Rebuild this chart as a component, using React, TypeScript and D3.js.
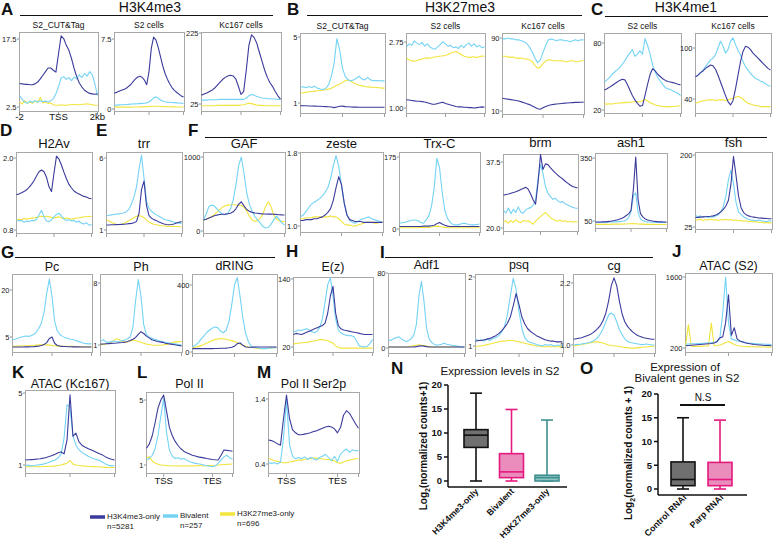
import React from "react";
import * as d3 from "d3";

const FONT = "'Liberation Sans', Arial, Helvetica, sans-serif";
const COL_K4 = "#3b3b9c";
const COL_BIV = "#74d3f5";
const COL_K27 = "#f2e43c";

// ---------------- profile data (31 bins, -2kb .. TSS .. +2kb) ----------------
const A1_K4 = [7.7,7.6,7.5,7.5,7.4,7.4,7.6,8.0,8.7,9.5,10.3,11.1,11.1,10.6,10.2,14.2,18.2,17.6,16.1,15.0,13.2,11.0,9.2,7.8,6.9,6.2,5.8,5.5,5.4,5.3,5.4];
const A1_BIV = [5.0,4.2,3.6,3.3,3.8,3.5,3.9,3.6,3.9,3.7,3.8,3.6,3.9,4.3,5.4,7.0,8.9,9.2,8.6,9.0,8.3,9.1,8.7,9.6,9.0,9.9,9.3,10.3,9.6,7.6,5.0];
const A1_K27 = [3.6,3.2,3.9,3.4,3.6,3.3,3.8,3.5,4.6,3.4,3.6,3.3,3.4,3.0,2.9,2.9,3.0,2.9,2.9,3.0,3.0,3.1,3.0,3.0,3.1,3.1,3.2,3.1,3.0,2.9,2.9];
const A1_Y = ["2.5", "17.5"];

const A2_K4 = [1.7,1.8,1.9,2.0,2.1,2.2,2.4,2.6,2.9,3.2,3.4,3.5,3.4,3.1,2.6,4.0,6.5,7.7,7.4,6.6,5.6,4.6,3.8,3.2,2.7,2.3,2.0,1.8,1.6,1.4,1.3];
const A2_BIV = [0.4,0.42,0.44,0.45,0.46,0.48,0.5,0.52,0.54,0.55,0.56,0.58,0.6,0.62,0.66,0.75,0.95,1.2,1.3,1.15,0.95,0.85,0.78,0.74,0.72,0.7,0.68,0.66,0.64,0.62,0.6];
const A2_K27 = [0.2,0.2,0.21,0.2,0.21,0.2,0.21,0.2,0.21,0.22,0.22,0.23,0.23,0.24,0.25,0.26,0.28,0.3,0.3,0.29,0.27,0.26,0.25,0.24,0.24,0.23,0.23,0.22,0.22,0.22,0.22];
const A2_Y = ["0", "7.5"];

const A3_K4 = [50,53,56,60,64,70,78,86,94,100,104,106,104,96,75,52,60,120,190,220,212,196,170,145,120,100,85,74,60,48,39];
const A3_BIV = [36,36,36,37,37,37,37,38,38,38,38,38,38,38,38,38,38,42,48,52,50,46,44,42,41,40,40,39,39,38,38];
const A3_K27 = [20,20,20,20,20,20,21,21,21,21,21,21,21,21,21,22,23,25,27,26,24,22,21,21,20,20,20,20,20,20,20];
const A3_Y = ["25", "225"];

const B1_K4 = [0.84,0.83,0.83,0.82,0.82,0.81,0.8,0.8,0.79,0.78,0.77,0.76,0.72,0.76,0.8,0.81,0.78,0.77,0.76,0.75,0.75,0.74,0.74,0.74,0.74,0.74,0.74,0.74,0.74,0.74,0.74];
const B1_BIV = [1.95,1.98,1.92,2.0,1.94,2.02,1.9,1.85,1.82,1.88,2.1,2.6,3.4,4.9,4.2,3.1,2.6,2.4,2.35,2.4,2.5,2.62,2.45,2.4,2.55,2.4,2.35,2.36,2.35,2.34,2.34];
const B1_K27 = [1.58,1.62,1.66,1.68,1.70,1.72,1.74,1.76,1.78,1.8,1.84,1.9,1.98,2.08,2.15,2.25,2.35,2.4,2.32,2.22,2.14,2.08,2.04,2.0,1.98,1.96,1.95,1.94,1.92,1.9,1.9];
const B1_Y = ["1", "5"];

const B2_K4 = [1.22,1.21,1.20,1.19,1.18,1.18,1.17,1.16,1.14,1.12,1.10,1.10,1.12,1.14,1.15,1.12,1.10,1.08,1.06,1.04,1.03,1.03,1.02,1.02,1.01,1.01,1.0,1.01,1.02,1.03,1.02];
const B2_BIV = [2.62,2.70,2.66,2.78,2.72,2.68,2.74,2.64,2.70,2.62,2.58,2.56,2.62,2.68,2.76,2.70,2.64,2.66,2.60,2.62,2.58,2.66,2.60,2.68,2.72,2.64,2.70,2.62,2.66,2.60,2.62];
const B2_K27 = [2.32,2.28,2.25,2.24,2.26,2.28,2.30,2.32,2.33,2.32,2.34,2.36,2.36,2.38,2.38,2.40,2.42,2.46,2.48,2.50,2.46,2.42,2.38,2.36,2.34,2.35,2.36,2.34,2.36,2.38,2.37];
const B2_Y = ["1.00", "2.75"];

const B3_K4 = [24,23.5,23,22.5,22,21.5,21,20,19,18,17,15.5,14,12.5,12,13.5,15,16,16.8,17.3,17.7,18,18.3,18.6,18.8,19,19.2,19.4,19.5,19.6,19.7];
const B3_BIV = [89,89,90,89,89,88,88,87,86,84,80,75,68,63,66,74,82,88,89,88,87,88,88,87,87,86,87,88,87,88,88];
const B3_K27 = [70,70,69,69,69,68,68,68,67,67,66,64,60,57,58,62,65,66,66,65,65,65,65,64,64,65,65,64,64,65,65];
const B3_Y = ["10", "90"];

const C1_K4 = [38,39,40.5,42,43.5,45,46.5,47.5,47,43,38,33,29,26,23.5,24,33,43,52,57,55,52,50,48,46.5,45.5,45,44.5,44,43,42.5];
const C1_BIV = [45,47,49,52,54,56,58,61,64,68,71,74,68,70,73,70,84,78,70,60,54,49,46,43,40,39,38.5,37,36,35,33];
const C1_K27 = [25.5,25.3,25.6,25.4,25.8,26,26.2,26.4,26.6,26.8,27,27.2,27.4,27.6,27.4,28.2,29.5,28,26.5,25.5,24.5,24,23.5,23.2,23,22.8,23,23.2,23.4,23.6,23.6];
const C1_Y = ["20", "80"];

const C2_K4 = [66,68,71,73,76,78,80,79,75,68,60,52,44,37,33,38,52,68,84,96,102,101,98,94,91,88,85,82,79,76,74];
const C2_BIV = [66,68,71,74,78,82,86,88,92,100,108,102,94,98,108,112,104,97,92,84,78,74,70,67,64,63,61,60,58,56,55];
const C2_K27 = [35,36,37,38,38,39,39,39,38,39,39,39,38,39,40,41,42,43,42,40,37,35,34,33,32,32,31,31,31,31,31];
const C2_Y = ["40", "100"];

const D_K4 = [1.39,1.40,1.42,1.44,1.47,1.51,1.56,1.62,1.70,1.77,1.80,1.77,1.68,1.52,1.44,1.75,2.03,1.98,1.88,1.76,1.65,1.56,1.50,1.45,1.42,1.40,1.38,1.36,1.35,1.33,1.32];
const D_BIV = [0.97,0.95,0.96,0.93,0.95,0.94,0.96,0.95,0.98,1.05,1.13,1.02,0.95,0.94,0.97,1.02,1.06,1.08,1.03,0.98,0.96,0.97,0.95,0.96,0.93,0.95,0.91,0.90,0.92,0.88,0.89];
const D_K27 = [0.97,0.98,0.97,0.99,0.98,0.99,1.0,1.0,1.01,1.02,1.03,1.02,1.03,1.02,1.01,1.0,1.01,1.02,1.0,0.99,1.0,0.99,0.98,0.99,1.0,1.0,1.01,1.02,1.02,1.03,1.02];
const D_Y = ["0.8", "2.0"];

const E_K4 = [1.35,1.35,1.36,1.36,1.37,1.38,1.39,1.4,1.42,1.44,1.46,1.5,1.6,2.15,3.8,4.4,2.7,2.0,1.82,1.72,1.65,1.55,1.48,1.42,1.38,1.36,1.38,1.42,1.48,1.54,1.58];
const E_BIV = [2.0,2.02,2.05,2.08,2.1,2.12,2.15,2.2,2.27,2.45,2.8,3.3,4.0,5.2,6.2,4.6,3.0,2.5,2.3,2.15,2.05,1.95,1.85,1.75,1.7,1.65,1.6,1.55,1.5,1.48,1.46];
const E_K27 = [1.7,1.62,1.52,1.45,1.4,1.36,1.38,1.45,1.55,1.65,1.75,1.85,1.95,2.0,1.95,1.85,1.7,1.55,1.45,1.4,1.36,1.33,1.3,1.28,1.27,1.26,1.25,1.24,1.24,1.23,1.23];
const E_Y = ["1", "6"];

const GAF_K4 = [150,160,175,190,205,215,222,226,228,232,240,260,300,360,395,340,290,265,252,245,240,235,232,230,228,228,226,224,220,218,217];
const GAF_BIV = [150,230,330,350,340,300,260,230,220,240,300,420,620,880,1000,780,520,360,270,200,150,110,60,40,50,90,150,200,160,110,80];
const GAF_K27 = [150,160,175,195,220,255,290,320,340,350,355,355,352,350,345,320,270,200,150,130,140,170,230,330,395,330,220,160,140,130,127];
const GAF_Y = ["0", "1000"];

const ZESTE_K4 = [1.06,1.06,1.07,1.07,1.07,1.08,1.08,1.09,1.10,1.12,1.15,1.19,1.28,1.42,1.54,1.45,1.25,1.12,1.07,1.06,1.05,1.05,1.05,1.04,1.04,1.04,1.04,1.04,1.04,1.04,1.04];
const ZESTE_BIV = [1.10,1.12,1.16,1.20,1.24,1.26,1.28,1.30,1.33,1.37,1.42,1.52,1.66,1.77,1.65,1.45,1.25,1.12,1.06,1.04,1.03,1.05,1.07,1.08,1.09,1.10,1.08,1.07,1.06,1.05,1.04];
const ZESTE_K27 = [1.08,1.08,1.09,1.09,1.09,1.1,1.1,1.1,1.1,1.1,1.1,1.11,1.1,1.1,1.08,1.05,1.02,1.01,1.01,1.0,1.0,1.01,1.02,1.03,1.04,1.04,1.04,1.03,1.03,1.04,1.04];
const ZESTE_Y = ["1.0", "1.8"];

const TRXC_K4 = [6,6,6,6,6,6,6,6,6,7,7,7,8,9,13,16,12,9,7,6,6,6,6,6,6,6,6,6,6,6,6];
const TRXC_BIV = [14,15,16,18,20,22,22,20,16,14,22,32,55,100,172,150,90,45,26,16,11,10,10,12,14,13,11,10,10,11,12];
const TRXC_K27 = [3,3,3,3,3,3,3,3,4,4,4,4,5,6,7,6,5,4,3,3,3,3,3,3,3,3,3,3,3,3,3];
const TRXC_Y = ["0", "175"];

const BRM_K4 = [28.7,28.9,29.0,29.2,29.4,29.6,29.9,30.2,30.5,30.8,30.3,29.0,27.5,26.3,32.0,39.5,35.5,37.0,36.8,36.0,35.3,34.6,34.0,33.5,33.0,32.4,31.9,31.4,31.0,30.8,30.6];
const BRM_BIV = [24.7,24.0,25.3,23.8,25.0,24.1,25.6,24.2,23.9,24.8,25.2,25.4,26.0,27.5,33.0,36.8,34.5,31.0,29.2,28.4,27.6,27.9,27.2,26.8,27.0,26.4,26.1,25.8,25.5,25.3,25.2];
const BRM_K27 = [21.6,21.9,21.3,22.0,21.5,22.2,21.7,21.4,22.0,21.8,21.9,21.5,21.0,21.8,22.4,23.0,23.6,24.1,23.5,22.8,22.3,22.0,21.8,22.1,21.7,21.9,21.6,21.8,21.5,21.7,21.6];
const BRM_Y = ["20.0", "37.5"];

const ASH1_K4 = [45,45,45,46,46,47,48,50,52,55,58,62,68,76,84,100,200,355,150,85,70,60,55,52,50,48,47,46,46,45,45];
const ASH1_BIV = [43,43,43,44,44,44,45,45,46,46,47,48,50,55,65,95,170,184,90,60,52,48,46,45,44,44,43,43,43,43,43];
const ASH1_K27 = [34,34,34,34,34,34,34,35,35,35,35,35,36,36,37,37,38,37,36,35,35,34,34,34,34,34,33,33,33,33,33];
const ASH1_Y = ["50", "350"];

const FSH_K4 = [48,48.5,49,49.5,50,50.5,51,52,54,57,62,68,76,90,130,196,150,100,72,60,55,52,50,49,48,47,46.5,46,45.5,45,45];
const FSH_BIV = [53,50,52,49,51,48,50,49,52,55,62,75,100,140,163,130,85,62,55,50,46,43,42,41,40,42,40,39,38,40,39];
const FSH_K27 = [43,42,44,41,43,42,44,42,43,41,43,42,44,42,43,41,42,40,41,39,40,38,39,37,38,36,37,35,36,35,35];
const FSH_Y = ["25", "200"];

const PC_K4 = [1.8,1.8,1.8,1.8,1.8,1.85,1.85,1.9,1.9,2.0,2.1,2.3,2.6,3.2,4.5,5.0,3.0,2.3,2.1,2.0,1.95,1.9,1.9,1.85,1.85,1.85,1.8,1.8,1.8,1.8,1.8];
const PC_BIV = [4.1,4.3,4.6,4.9,5.1,5.3,5.2,5.4,5.8,6.5,7.8,9.5,13.0,19.0,23.5,18.0,10.0,7.0,5.8,5.2,4.8,4.5,4.3,4.2,3.9,3.6,3.3,3.0,2.9,2.8,2.8];
const PC_K27 = [2.0,2.0,2.1,2.1,2.2,2.2,2.2,2.3,2.3,2.4,2.5,2.5,2.6,2.5,2.4,2.3,2.2,2.1,2.1,2.0,2.0,2.0,2.0,2.0,1.9,1.9,1.9,1.9,1.9,1.9,1.9];
const PC_Y = ["5", "20"];

const PH_K4 = [1.1,1.12,1.14,1.16,1.18,1.2,1.22,1.25,1.28,1.32,1.4,1.5,1.65,1.85,2.2,2.5,2.3,2.0,1.8,1.6,1.5,1.4,1.35,1.3,1.2,1.15,1.1,1.05,1.0,0.95,0.9];
const PH_BIV = [1.38,1.6,1.35,1.3,1.4,1.45,1.35,1.4,1.5,1.55,1.7,1.9,3.0,6.0,8.4,6.5,3.3,2.2,1.9,1.75,1.65,1.55,1.45,1.4,1.3,1.25,1.2,1.15,1.1,1.05,1.0];
const PH_K27 = [1.0,1.05,1.1,1.2,1.35,1.55,1.7,1.6,1.4,1.3,1.35,1.45,1.55,1.5,1.4,1.3,1.2,1.1,1.05,1.0,0.98,0.97,0.98,1.0,1.05,1.1,1.2,1.3,1.35,1.38,1.38];
const PH_Y = ["1", "8"];

const DRING_K4 = [20,20,20,20,20,20,20,20,21,21,22,22,23,25,28,35,50,54,40,30,28,28,29,30,30,30,30,30,30,30,30];
const DRING_BIV = [30,40,55,75,95,115,130,142,150,145,125,115,130,180,280,400,445,330,200,110,60,35,28,25,22,20,20,22,24,25,26];
const DRING_K27 = [26,28,32,38,45,52,60,68,74,78,80,79,76,72,68,62,55,48,40,34,30,27,25,22,20,20,21,22,24,25,26];
const DRING_Y = ["0", "400"];

const EZ_K4 = [42,44,43,42,44,46,48,50,52,54,56,58,62,80,110,127,80,58,52,50,49,48,47,46,45,44,43,42,42,42,42];
const EZ_BIV = [47,48,50,49,51,52,50,47,45,48,55,70,100,130,142,110,70,50,45,42,41,40,40,38,30,22,21,20,21,26,33];
const EZ_K27 = [26,26,27,27,28,28,29,30,31,32,33,33,32,31,29,27,22,19,18,18,18,18,18,18,18,18,18,18,18,18,18];
const EZ_Y = ["20", "140"];

const ADF1_K4 = [1,1,1,1,1,1,1,1,1,1,1.2,1.5,2,2.4,2,1.5,1.2,1,1,1,1,1,1,1,1,1,1,1,1,1,1];
const ADF1_BIV = [9,8,10,11,12,10,8,7,8,10,14,25,55,71,50,22,10,6,4,3,3.5,4,5,4,3.5,3,2.5,2,1.5,1,1];
const ADF1_K27 = [1,1,1,1,1,1,1,1.2,1.5,2,2.5,3,3.4,3,2.5,2,1.5,1.2,1,1,1,1,1,1,1,1,1,1,1,1,1];
const ADF1_Y = ["0", "80"];

const PSQ_K4 = [1.07,1.08,1.08,1.09,1.10,1.11,1.13,1.15,1.18,1.22,1.27,1.33,1.42,1.58,1.76,1.60,1.42,1.32,1.25,1.21,1.18,1.15,1.13,1.11,1.09,1.08,1.07,1.07,1.06,1.06,1.06];
const PSQ_BIV = [1.10,1.08,1.09,1.07,1.10,1.08,1.11,1.12,1.15,1.2,1.28,1.45,1.72,1.98,1.82,1.5,1.25,1.12,1.07,1.05,1.04,1.02,1.01,1.0,1.02,1.01,1.02,1.0,1.01,1.01,1.01];
const PSQ_K27 = [0.99,1.0,1.0,1.01,1.02,1.03,1.04,1.05,1.06,1.07,1.07,1.08,1.08,1.08,1.07,1.06,1.05,1.04,1.03,1.02,1.01,1.0,1.0,0.99,0.99,0.99,0.99,0.99,0.99,0.99,0.99];
const PSQ_Y = ["1", "2"];

const CG_K4 = [1.11,1.12,1.13,1.14,1.16,1.18,1.20,1.23,1.27,1.32,1.38,1.48,1.62,1.85,2.15,2.30,2.15,1.85,1.60,1.45,1.36,1.30,1.25,1.21,1.18,1.16,1.14,1.13,1.12,1.11,1.11];
const CG_BIV = [1.00,1.01,1.01,1.02,1.03,1.04,1.05,1.07,1.10,1.15,1.22,1.32,1.45,1.58,1.62,1.58,1.45,1.30,1.20,1.12,1.07,1.05,1.04,1.03,1.02,1.01,1.01,1.02,1.01,1.0,1.0];
const CG_K27 = [0.98,0.99,1.0,1.01,1.02,1.03,1.04,1.05,1.06,1.06,1.05,1.04,1.02,1.0,0.99,0.98,0.98,0.97,0.96,0.95,0.95,0.94,0.94,0.94,0.95,0.95,0.96,0.96,0.97,0.97,0.98];
const CG_Y = ["1.0", "2.2"];

const ATACS2_K4 = [245,250,255,260,265,270,275,280,285,290,300,330,400,420,700,1250,450,600,380,340,320,300,290,280,270,265,260,255,250,248,245];
const ATACS2_BIV = [275,280,285,285,290,290,295,300,300,305,310,320,400,900,1600,700,380,360,340,330,320,310,300,295,290,285,280,278,275,272,270];
const ATACS2_K27 = [230,660,235,232,230,235,233,238,240,690,245,250,260,280,310,330,300,270,250,240,235,230,228,226,225,222,220,220,220,218,218];
const ATACS2_Y = ["200", "1600"];

const ATACK_K4 = [1.28,1.29,1.30,1.31,1.33,1.35,1.38,1.42,1.47,1.53,1.60,1.68,1.72,1.62,2.4,4.9,2.6,2.77,2.3,2.1,2.0,1.92,1.85,1.78,1.7,1.62,1.55,1.45,1.38,1.32,1.28];
const ATACK_BIV = [1.0,0.98,0.95,0.97,1.0,1.02,1.05,1.1,1.15,1.22,1.28,1.4,1.6,2.5,4.35,4.2,2.6,2.1,1.85,1.7,1.6,1.5,1.42,1.35,1.3,1.25,1.15,1.05,0.98,0.95,0.96];
const ATACK_K27 = [0.9,0.9,0.9,0.9,0.9,0.9,0.92,0.92,0.93,0.94,0.95,0.97,1.0,1.05,1.1,1.25,1.05,1.0,0.97,0.95,0.94,0.93,0.92,0.91,0.9,0.9,0.88,0.87,0.86,0.86,0.86];
const ATACK_Y = ["1", "5"];

// metagene bins: upstream .. TSS (bin 6) .. gene body .. TES (bin 23) .. downstream
const POL2_K4 = [2.03,2.3,2.8,3.6,4.5,5.0,5.3,4.3,3.3,2.8,2.45,2.2,2.0,1.85,1.75,1.67,1.6,1.55,1.5,1.47,1.44,1.4,1.37,1.34,1.32,1.31,1.6,1.92,1.9,1.88,1.85];
const POL2_BIV = [1.3,1.4,1.6,2.0,2.8,4.0,5.1,3.0,1.9,1.55,1.4,1.45,1.35,1.4,1.3,1.2,1.15,1.1,1.08,1.05,1.0,0.95,0.92,0.9,0.95,1.1,1.3,1.5,1.6,1.45,1.35];
const POL2_K27 = [1.45,1.5,1.25,1.12,1.05,1.0,0.98,0.96,0.95,0.95,0.94,0.95,0.94,0.95,0.94,0.95,0.94,0.95,0.96,0.95,0.94,0.95,0.96,0.97,0.98,1.0,1.02,1.03,1.04,1.05,1.06];
const POL2_Y = ["1", "5"];

const SER2_K4 = [0.77,0.76,0.74,0.71,0.69,1.1,1.46,1.1,0.93,0.88,0.85,0.85,0.86,0.87,0.88,0.9,0.91,0.93,0.95,0.97,0.98,0.97,0.94,0.88,0.96,1.15,1.22,1.18,1.1,1.02,0.95];
const SER2_BIV = [0.42,0.41,0.42,0.40,0.43,0.8,1.38,0.7,0.52,0.48,0.5,0.48,0.51,0.47,0.5,0.48,0.46,0.5,0.52,0.55,0.5,0.45,0.52,0.44,0.55,0.6,0.63,0.58,0.62,0.6,0.61];
const SER2_K27 = [0.49,0.47,0.45,0.44,0.43,0.42,0.42,0.43,0.44,0.45,0.46,0.46,0.47,0.48,0.48,0.49,0.49,0.48,0.48,0.47,0.47,0.46,0.45,0.42,0.41,0.43,0.45,0.46,0.47,0.48,0.48];
const SER2_Y = ["0.4", "1.4"];

const TSS_X = ["-2", "TSS", "2kb"];
const GENE_X = ["TSS", "TES"];

const LEGEND_LABELS = ["H3K4me3-only", "Bivalent", "H3K27me3-only"];
const LEGEND_N = ["n=5281", "n=257", "n=696"];

// ---------------- box plot data ----------------
const N_CATS = ["H3K4me3-only", "Bivalent", "H3K27me3-only"];
const N_MIN = [0, 0, 0];
const N_Q1 = [7.0, 0.7, 0.0];
const N_MED = [9.55, 1.9, 0.7];
const N_Q3 = [10.7, 5.7, 1.2];
const N_MAX = [18.3, 14.9, 12.7];

const O_CATS = ["Control RNAi", "Parp RNAi"];
const O_MIN = [0, 0];
const O_Q1 = [0.7, 0.7];
const O_MED = [2.0, 2.0];
const O_Q3 = [5.7, 5.6];
const O_MAX = [15.0, 14.5];

const BOX_TICKS = [0, 5, 10, 15, 20];

// ---------------- layout ----------------
type Panel = {
  key: string; title: string; ts: number; ty: number;
  x0: number; y0: number; x1: number; y1: number;
  yt: string[]; tp: [number, number];
  k4: number[]; biv: number[]; k27: number[];
  xl?: string[]; xi?: number[];
};

const PANELS: Panel[] = [
  { key: "A1", title: "S2_CUT&Tag", ts: 8.5, ty: 28, x0: 19, y0: 32, x1: 98, y1: 111, yt: A1_Y, tp: [107, 39], k4: A1_K4, biv: A1_BIV, k27: A1_K27, xl: TSS_X, xi: [0, 15, 30] },
  { key: "A2", title: "S2 cells", ts: 8.5, ty: 28, x0: 114, y0: 32, x1: 184, y1: 111, yt: A2_Y, tp: [109, 39], k4: A2_K4, biv: A2_BIV, k27: A2_K27 },
  { key: "A3", title: "Kc167 cells", ts: 8.5, ty: 28, x0: 201, y0: 32, x1: 281, y1: 111, yt: A3_Y, tp: [104, 33], k4: A3_K4, biv: A3_BIV, k27: A3_K27 },
  { key: "B1", title: "S2_CUT&Tag", ts: 8.5, ty: 29, x0: 300, y0: 33, x1: 385, y1: 113, yt: B1_Y, tp: [103, 37], k4: B1_K4, biv: B1_BIV, k27: B1_K27 },
  { key: "B2", title: "S2 cells", ts: 8.5, ty: 29, x0: 406, y0: 33, x1: 485, y1: 113, yt: B2_Y, tp: [108, 42], k4: B2_K4, biv: B2_BIV, k27: B2_K27 },
  { key: "B3", title: "Kc167 cells", ts: 8.5, ty: 29, x0: 502, y0: 33, x1: 584, y1: 114, yt: B3_Y, tp: [111, 38], k4: B3_K4, biv: B3_BIV, k27: B3_K27 },
  { key: "C1", title: "S2 cells", ts: 8.5, ty: 29, x0: 604, y0: 33, x1: 681, y1: 113, yt: C1_Y, tp: [110, 43], k4: C1_K4, biv: C1_BIV, k27: C1_K27 },
  { key: "C2", title: "Kc167 cells", ts: 8.5, ty: 29, x0: 695, y0: 33, x1: 771, y1: 113, yt: C2_Y, tp: [99, 48], k4: C2_K4, biv: C2_BIV, k27: C2_K27 },

  { key: "D", title: "H2Av", ts: 13, ty: 148, x0: 16, y0: 152, x1: 92, y1: 233, yt: D_Y, tp: [230, 158], k4: D_K4, biv: D_BIV, k27: D_K27 },
  { key: "E", title: "trr", ts: 13, ty: 148, x0: 106, y0: 152, x1: 182, y1: 233, yt: E_Y, tp: [230, 158], k4: E_K4, biv: E_BIV, k27: E_K27 },
  { key: "GAF", title: "GAF", ts: 13, ty: 148, x0: 203, y0: 152, x1: 285, y1: 233, yt: GAF_Y, tp: [231, 157], k4: GAF_K4, biv: GAF_BIV, k27: GAF_K27 },
  { key: "ZESTE", title: "zeste", ts: 13, ty: 148, x0: 300, y0: 152, x1: 383, y1: 232, yt: ZESTE_Y, tp: [226, 153], k4: ZESTE_K4, biv: ZESTE_BIV, k27: ZESTE_K27 },
  { key: "TRXC", title: "Trx-C", ts: 13, ty: 148, x0: 399, y0: 152, x1: 480, y1: 232, yt: TRXC_Y, tp: [229, 157], k4: TRXC_K4, biv: TRXC_BIV, k27: TRXC_K27 },
  { key: "BRM", title: "brm", ts: 13, ty: 147, x0: 503, y0: 154, x1: 578, y1: 231, yt: BRM_Y, tp: [228, 162], k4: BRM_K4, biv: BRM_BIV, k27: BRM_K27 },
  { key: "ASH1", title: "ash1", ts: 13, ty: 147, x0: 595, y0: 153, x1: 667, y1: 228, yt: ASH1_Y, tp: [221, 158], k4: ASH1_K4, biv: ASH1_BIV, k27: ASH1_K27 },
  { key: "FSH", title: "fsh", ts: 13, ty: 147, x0: 695, y0: 152, x1: 772, y1: 229, yt: FSH_Y, tp: [227, 155], k4: FSH_K4, biv: FSH_BIV, k27: FSH_K27 },

  { key: "PC", title: "Pc", ts: 12.5, ty: 271, x0: 12, y0: 274, x1: 92, y1: 352, yt: PC_Y, tp: [337, 290], k4: PC_K4, biv: PC_BIV, k27: PC_K27 },
  { key: "PH", title: "Ph", ts: 12.5, ty: 271, x0: 100, y0: 274, x1: 182, y1: 352, yt: PH_Y, tp: [345, 283], k4: PH_K4, biv: PH_BIV, k27: PH_K27 },
  { key: "DRING", title: "dRING", ts: 12.5, ty: 270, x0: 192, y0: 274, x1: 277, y1: 353, yt: DRING_Y, tp: [352, 285], k4: DRING_K4, biv: DRING_BIV, k27: DRING_K27 },
  { key: "EZ", title: "E(z)", ts: 12.5, ty: 271, x0: 293, y0: 277, x1: 373, y1: 352, yt: EZ_Y, tp: [347, 279], k4: EZ_K4, biv: EZ_BIV, k27: EZ_K27 },
  { key: "ADF1", title: "Adf1", ts: 12.5, ty: 269, x0: 388, y0: 273, x1: 465, y1: 353, yt: ADF1_Y, tp: [348, 273], k4: ADF1_K4, biv: ADF1_BIV, k27: ADF1_K27 },
  { key: "PSQ", title: "psq", ts: 12.5, ty: 269, x0: 475, y0: 274, x1: 563, y1: 353, yt: PSQ_Y, tp: [346, 277], k4: PSQ_K4, biv: PSQ_BIV, k27: PSQ_K27 },
  { key: "CG", title: "cg", ts: 12.5, ty: 270, x0: 573, y0: 274, x1: 655, y1: 353, yt: CG_Y, tp: [345, 283], k4: CG_K4, biv: CG_BIV, k27: CG_K27 },
  { key: "ATACS2", title: "ATAC (S2)", ts: 12.5, ty: 270, x0: 685, y0: 273, x1: 772, y1: 352, yt: ATACS2_Y, tp: [348, 277], k4: ATACS2_K4, biv: ATACS2_BIV, k27: ATACS2_K27 },

  { key: "ATACK", title: "ATAC (Kc167)", ts: 12.5, ty: 388, x0: 25, y0: 390, x1: 115, y1: 473, yt: ATACK_Y, tp: [465, 393], k4: ATACK_K4, biv: ATACK_BIV, k27: ATACK_K27 },
  { key: "POL2", title: "Pol II", ts: 12.5, ty: 388, x0: 146, y0: 392, x1: 233, y1: 473, yt: POL2_Y, tp: [465, 400], k4: POL2_K4, biv: POL2_BIV, k27: POL2_K27, xl: GENE_X, xi: [6, 23] },
  { key: "SER2", title: "Pol II Ser2p", ts: 12.5, ty: 388, x0: 268, y0: 392, x1: 359, y1: 473, yt: SER2_Y, tp: [464, 399], k4: SER2_K4, biv: SER2_BIV, k27: SER2_K27, xl: GENE_X, xi: [6, 23] },
];

const LETTERS: [string, number, number][] = [
  ["A", 1, 15], ["B", 287, 15], ["C", 591, 15],
  ["D", 0, 136], ["E", 96, 136], ["F", 188, 136],
  ["G", 1, 258], ["H", 286, 257], ["I", 380, 258], ["J", 672, 257],
  ["K", 12, 378], ["L", 137, 378], ["M", 257, 378],
  ["N", 391, 374], ["O", 580, 374],
];

function Profile({ p }: { p: Panel }) {
  const n = p.k4.length;
  const x = d3.scaleLinear().domain([0, n - 1]).range([p.x0 + 0.5, p.x1 - 0.5]);
  const y = d3.scaleLinear().domain([+p.yt[0], +p.yt[1]]).range(p.tp);
  const line = d3.line<number>().x((_, i) => x(i)).y((d) => y(d));
  const xi = p.xi ?? [0, (n - 1) / 2, n - 1];
  const series: [number[], string][] = [[p.k27, COL_K27], [p.biv, COL_BIV], [p.k4, COL_K4]];
  return (
    <g>
      <defs>
        <clipPath id={"clip-" + p.key}>
          <rect x={p.x0} y={p.y0} width={p.x1 - p.x0} height={p.y1 - p.y0} />
        </clipPath>
      </defs>
      <text x={(p.x0 + p.x1) / 2} y={p.ty} fontSize={p.ts} textAnchor="middle" fill="#111">{p.title}</text>
      <rect x={p.x0 + 0.5} y={p.y0 + 0.5} width={p.x1 - p.x0} height={p.y1 - p.y0} fill="white" stroke="#a8a8a8" strokeWidth={1} />
      <g clipPath={`url(#clip-${p.key})`}>
        {series.map(([d, c], k) => (
          <path key={k} d={line(d) ?? ""} fill="none" stroke={c} strokeWidth={1.1} strokeLinejoin="round" />
        ))}
      </g>
      {p.yt.map((t) => (
        <g key={t}>
          <line x1={p.x0 - 2} x2={p.x0} y1={y(+t)} y2={y(+t)} stroke="#777" strokeWidth={0.8} />
          <text x={p.x0 - 2.5} y={y(+t)} dy="0.35em" fontSize={7.5} textAnchor="end" fill="#222">{t}</text>
        </g>
      ))}
      {(p.xi ? [0, ...xi, n - 1] : xi).map((i, k) => (
        <line key={k} x1={x(i)} x2={x(i)} y1={p.y1 + 1} y2={p.y1 + 4} stroke="#888" strokeWidth={0.8} />
      ))}
      {p.xl && p.xl.map((t, k) => (
        <text key={t} x={x(xi[k])} y={p.key === "A1" ? 120 : p.y1 + 11} fontSize={9.5} textAnchor="middle" fill="#111">{t}</text>
      ))}
    </g>
  );
}

type BoxSpec = {
  cats: string[]; min: number[]; q1: number[]; med: number[]; q3: number[]; max: number[];
  axisX: number; y0: number; yTop: number; axisBottom: number; axisRight: number;
  c0: number; c1: number; fills: string[]; strokes: string[];
  title: string; titleX: number; titleY: number; labelDx: number; labelY: number;
};

function BoxPlot({ s }: { s: BoxSpec }) {
  const y = d3.scaleLinear().domain([0, 20]).range([s.y0, s.yTop]);
  const x = d3.scalePoint<string>().domain(s.cats).range([s.c0, s.c1]);
  const bw = 24;
  return (
    <g fontFamily={FONT}>
      <line x1={s.axisX} x2={s.axisX} y1={y(20)} y2={s.axisBottom} stroke="#111" strokeWidth={1.5} />
      <line x1={s.axisX} x2={s.axisRight} y1={s.axisBottom} y2={s.axisBottom} stroke="#111" strokeWidth={1.5} />
      {BOX_TICKS.map((t) => (
        <g key={t}>
          <line x1={s.axisX - 4} x2={s.axisX} y1={y(t)} y2={y(t)} stroke="#111" strokeWidth={1.5} />
          <text x={s.axisX - 6} y={y(t)} dy="0.35em" fontSize={9.5} fontWeight="bold" textAnchor="end" fill="#111">{t}</text>
        </g>
      ))}
      <text transform={`translate(${s.titleX},${s.titleY}) rotate(-90)`} fontSize={10} fontWeight="bold" textAnchor="middle" fill="#111">
        Log<tspan fontSize={7} dy={3}>2</tspan><tspan dy={-3}>{s.title}</tspan>
      </text>
      {s.cats.map((c, i) => {
        const cx = x(c) as number;
        return (
          <g key={c}>
            <line x1={cx} x2={cx} y1={y(s.max[i])} y2={y(s.q3[i])} stroke={s.strokes[i]} strokeWidth={1.6} />
            <line x1={cx} x2={cx} y1={y(s.q1[i])} y2={y(s.min[i])} stroke={s.strokes[i]} strokeWidth={1.6} />
            <line x1={cx - 6} x2={cx + 6} y1={y(s.max[i])} y2={y(s.max[i])} stroke={s.strokes[i]} strokeWidth={1.6} />
            <line x1={cx - 6} x2={cx + 6} y1={y(s.min[i])} y2={y(s.min[i])} stroke={s.strokes[i]} strokeWidth={1.6} />
            <rect x={cx - bw / 2} y={y(s.q3[i])} width={bw} height={y(s.q1[i]) - y(s.q3[i])} fill={s.fills[i]} stroke={s.strokes[i]} strokeWidth={1.6} />
            <line x1={cx - bw / 2} x2={cx + bw / 2} y1={y(s.med[i])} y2={y(s.med[i])} stroke={s.strokes[i]} strokeWidth={1.6} />
            <text transform={`translate(${cx + s.labelDx},${s.labelY}) rotate(-45)`} fontSize={8.8} fontWeight="bold" textAnchor="end" fill="#111">{c}</text>
          </g>
        );
      })}
    </g>
  );
}

const N_SPEC: BoxSpec = {
  cats: N_CATS, min: N_MIN, q1: N_Q1, med: N_MED, q3: N_Q3, max: N_MAX,
  axisX: 448, y0: 481, yTop: 385, axisBottom: 487, axisRight: 567,
  c0: 476, c1: 547,
  fills: ["#707070", "#ea8cbc", "#8cc4c4"], strokes: ["#111111", "#e6197f", "#3f8f8f"],
  title: "(normalized counts+1)", titleX: 427, titleY: 446, labelDx: 3, labelY: 492,
};

const O_SPEC: BoxSpec = {
  cats: O_CATS, min: O_MIN, q1: O_Q1, med: O_MED, q3: O_Q3, max: O_MAX,
  axisX: 658, y0: 489, yTop: 394, axisBottom: 495, axisRight: 747,
  c0: 683, c1: 720,
  fills: ["#707070", "#ea8cbc"], strokes: ["#111111", "#e6197f"],
  title: "(normalized counts + 1)", titleX: 632, titleY: 453, labelDx: 4, labelY: 498,
};

export default function App() {
  const legendColors = [COL_K4, COL_BIV, COL_K27];
  const legendX = [90, 163, 220];
  const legendTextY = [519, 518, 516];
  return (
    <svg width={774} height={542} viewBox="0 0 774 542" style={{ position: "absolute", left: 0, top: 0, background: "white" }} fontFamily={FONT}>
      <rect width={774} height={542} fill="white" />
      {/* group headers */}
      <text x={150} y={12} fontSize={14} textAnchor="middle" fill="#111">H3K4me3</text>
      <line x1={20} x2={273} y1={15.5} y2={15.5} stroke="#111" strokeWidth={1} />
      <text x={460} y={12} fontSize={14} textAnchor="middle" fill="#111">H3K27me3</text>
      <line x1={307} x2={582} y1={15.5} y2={15.5} stroke="#111" strokeWidth={1} />
      <text x={686} y={12} fontSize={14} textAnchor="middle" fill="#111">H3K4me1</text>
      <line x1={605} x2={768} y1={16.5} y2={16.5} stroke="#111" strokeWidth={1} />
      <line x1={205} x2={767} y1={137.5} y2={137.5} stroke="#111" strokeWidth={1} />
      <line x1={15} x2={275} y1={257.5} y2={257.5} stroke="#111" strokeWidth={1} />
      <line x1={385} x2={653} y1={257.5} y2={257.5} stroke="#111" strokeWidth={1} />

      {LETTERS.map(([l, x, y]) => (
        <text key={l} x={x} y={y} fontSize={17} fontWeight="bold" fill="#111">{l}</text>
      ))}

      {PANELS.map((p) => <Profile key={p.key} p={p} />)}

      {/* legend */}
      {LEGEND_LABELS.map((l, i) => (
        <g key={l}>
          <line x1={legendX[i]} x2={legendX[i] + 15} y1={legendTextY[i] - 2} y2={legendTextY[i] - 2} stroke={legendColors[i]} strokeWidth={3.5} />
          <text x={legendX[i] + 17} y={legendTextY[i]} fontSize={8} fill="#222">{l}</text>
          <text x={legendX[i] + 17} y={legendTextY[i] + 10} fontSize={8} fill="#222">{LEGEND_N[i]}</text>
        </g>
      ))}

      {/* box plots */}
      <text x={500} y={375} fontSize={11.5} textAnchor="middle" fill="#111">Expression levels in S2</text>
      <BoxPlot s={N_SPEC} />
      <text x={685} y={371} fontSize={11.5} textAnchor="middle" fill="#111">Expression of</text>
      <text x={687} y={382} fontSize={11.5} textAnchor="middle" fill="#111">Bivalent genes in S2</text>
      <BoxPlot s={O_SPEC} />
      <line x1={680} x2={725} y1={405} y2={405} stroke="#111" strokeWidth={2} />
      <text x={703} y={401} fontSize={10} textAnchor="middle" fill="#111">N.S</text>
    </svg>
  );
}
